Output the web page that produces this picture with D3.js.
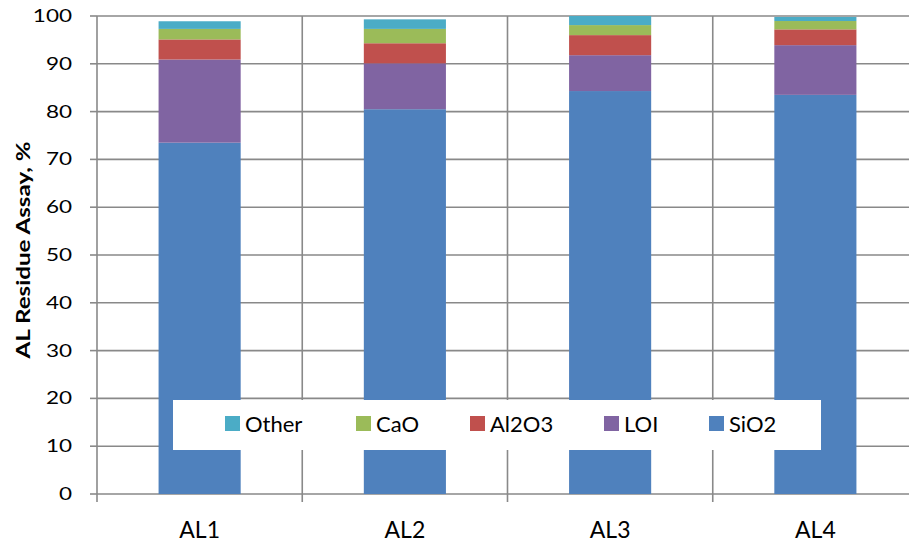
<!DOCTYPE html>
<html>
<head>
<meta charset="utf-8">
<script src="https://cdn.jsdelivr.net/npm/d3@7"></script>
<style>
  html, body { margin: 0; padding: 0; background: #fff; }
  svg { display: block; }
  text { font-family: Lato, "Open Sans", sans-serif; fill: #000; }
</style>
</head>
<body>
<svg id="chart" width="909" height="544"></svg>
<script>
// Samples
const categories = ["AL1", "AL2", "AL3", "AL4"];
// Component series, stacked bottom to top
const seriesNames = ["SiO2", "LOI", "Al2O3", "CaO", "Other"];
const SiO2  = [73.5, 80.5, 84.3, 83.5];
const LOI   = [17.4,  9.6,  7.5, 10.4];
const Al2O3 = [ 4.2,  4.2,  4.2,  3.3];
const CaO   = [ 2.2,  3.0,  2.1,  1.75];
const Other = [ 1.6,  2.0,  1.9,  0.85];
const yTicks = [0, 10, 20, 30, 40, 50, 60, 70, 80, 90, 100];
const legendOrder = ["Other", "CaO", "Al2O3", "LOI", "SiO2"];

const colors = {
  SiO2: "#4F81BD", LOI: "#8064A2", Al2O3: "#C0504D", CaO: "#9BBB59", Other: "#4BACC6"
};
const values = { SiO2, LOI, Al2O3, CaO, Other };

const rows = categories.map((c, i) => {
  const r = { cat: c };
  seriesNames.forEach(s => r[s] = values[s][i]);
  return r;
});

const svg = d3.select("#chart");
const plotLeft = 97, plotRight = 918, plotTop = 16, plotBottom = 494;
const gridColor = "#898989";

const x = d3.scaleBand().domain(categories).range([plotLeft, plotRight])
  .paddingInner(0.6).paddingOuter(0.3);
const y = d3.scaleLinear().domain([0, 100]).range([plotBottom, plotTop]);
const step = x.step();

// horizontal gridlines
svg.append("g").selectAll("line").data(yTicks).join("line")
  .attr("x1", plotLeft).attr("x2", 909)
  .attr("y1", d => y(d)).attr("y2", d => y(d))
  .attr("stroke", gridColor).attr("stroke-width", 1.6);

// vertical gridlines at category boundaries (with tick stubs below axis)
const bounds = d3.range(categories.length + 1).map(i => plotLeft + i * step);
svg.append("g").selectAll("line").data(bounds).join("line")
  .attr("x1", d => d).attr("x2", d => d)
  .attr("y1", plotTop).attr("y2", plotBottom + 8)
  .attr("stroke", gridColor).attr("stroke-width", 1.6);

// y tick stubs
svg.append("g").selectAll("line").data(yTicks).join("line")
  .attr("x1", plotLeft - 7).attr("x2", plotLeft)
  .attr("y1", d => y(d)).attr("y2", d => y(d))
  .attr("stroke", gridColor).attr("stroke-width", 1.6);

// stacked bars
const stack = d3.stack().keys(seriesNames)(rows);
svg.append("g").selectAll("g").data(stack).join("g")
  .attr("fill", d => colors[d.key])
  .selectAll("rect").data(d => d).join("rect")
  .attr("x", d => x(d.data.cat))
  .attr("width", x.bandwidth())
  .attr("y", d => y(d[1]))
  .attr("height", d => y(d[0]) - y(d[1]));

// y tick labels
svg.append("g").selectAll("text").data(yTicks).join("text")
  .attr("transform", d => `translate(72,${y(d) + 6}) scale(1.25,1)`)
  .attr("text-anchor", "end")
  .attr("font-size", 18)
  .text(d => d);

// category labels
svg.append("g").selectAll("text").data(categories).join("text")
  .attr("x", d => x(d) + x.bandwidth() / 2)
  .attr("y", 538)
  .attr("text-anchor", "middle")
  .attr("font-size", 23)
  .text(d => d);

// y axis title
svg.append("text")
  .attr("transform", "translate(30,250) rotate(-90)")
  .attr("text-anchor", "middle")
  .attr("font-size", 19)
  .attr("font-weight", "bold")
  .attr("textLength", 217)
  .attr("lengthAdjust", "spacingAndGlyphs")
  .text("AL Residue Assay, %");

// legend
const legend = svg.append("g");
legend.append("rect")
  .attr("x", 173).attr("y", 400).attr("width", 648).attr("height", 50)
  .attr("fill", "#fff");
const legendX = [225, 356, 470, 604, 709];
const items = legend.selectAll("g.item").data(legendOrder).join("g")
  .attr("class", "item")
  .attr("transform", (d, i) => `translate(${legendX[i]},416)`);
items.append("rect").attr("width", 15).attr("height", 15)
  .attr("fill", d => colors[d]);
items.append("text").attr("x", 20).attr("y", 15.5)
  .attr("font-size", 22).text(d => d);
</script>
</body>
</html>
